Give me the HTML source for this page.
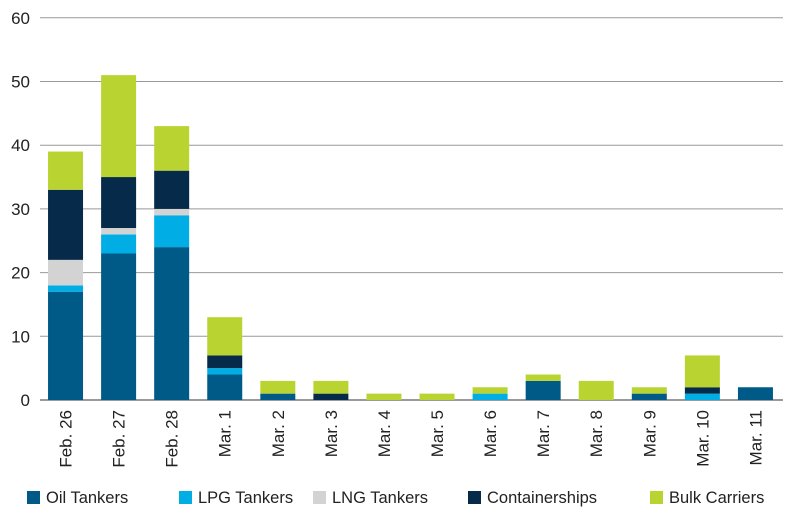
<!DOCTYPE html>
<html><head><meta charset="utf-8"><style>
body{margin:0;background:#fff;}
svg{display:block;font-family:"Liberation Sans",sans-serif;}
</style></head><body>
<svg id="c" width="800" height="516" xmlns="http://www.w3.org/2000/svg"></svg>
<script>
const s=document.getElementById('c');
const cols=['#005a87','#00aee5','#d3d3d3','#062a4a','#b9d431'];
const labels=['Feb. 26','Feb. 27','Feb. 28','Mar. 1','Mar. 2','Mar. 3','Mar. 4','Mar. 5','Mar. 6','Mar. 7','Mar. 8','Mar. 9','Mar. 10','Mar. 11'];
const d=[[17,1,4,11,6],[23,3,1,8,16],[24,5,1,6,7],[4,1,0,2,6],[1,0,0,0,2],[0,0,0,1,2],[0,0,0,0,1],[0,0,0,0,1],[0,1,0,0,1],[3,0,0,0,1],[0,0,0,0,3],[1,0,0,0,1],[0,1,0,1,5],[2,0,0,0,0]];
const y0=400,u=6.37,x0=39,pitch=53.07,bw=35;
let h='';
for(let i=0;i<=6;i++){const y=y0-i*10*u;h+=`<line x1="40" x2="783" y1="${y}" y2="${y}" stroke="${i==0?'#333':'#999'}" stroke-width="1"/>`;
h+=`<text x="30" y="${y+6}" text-anchor="end" font-size="17" fill="#222">${i*10}</text>`;}
d.forEach((r,i)=>{const cx=x0+pitch*(i+0.5);let acc=0;
r.forEach((v,k)=>{if(!v)return;const yt=y0-(acc+v)*u;h+=`<rect x="${cx-bw/2}" y="${yt}" width="${bw}" height="${v*u}" fill="${cols[k]}"/>`;acc+=v;});
h+=`<text transform="translate(${cx+6},410) rotate(-90)" text-anchor="end" font-size="17" fill="#222">${labels[i]}</text>`;});
const leg=[['Oil Tankers',27],['LPG Tankers',179],['LNG Tankers',313],['Containerships',468],['Bulk Carriers',650]];
leg.forEach((l,k)=>{h+=`<rect x="${l[1]}" y="491" width="13" height="13" fill="${cols[k]}"/><text x="${l[1]+19}" y="503" font-size="16.5" fill="#222">${l[0]}</text>`;});
s.innerHTML=h;
</script>
</body></html>
